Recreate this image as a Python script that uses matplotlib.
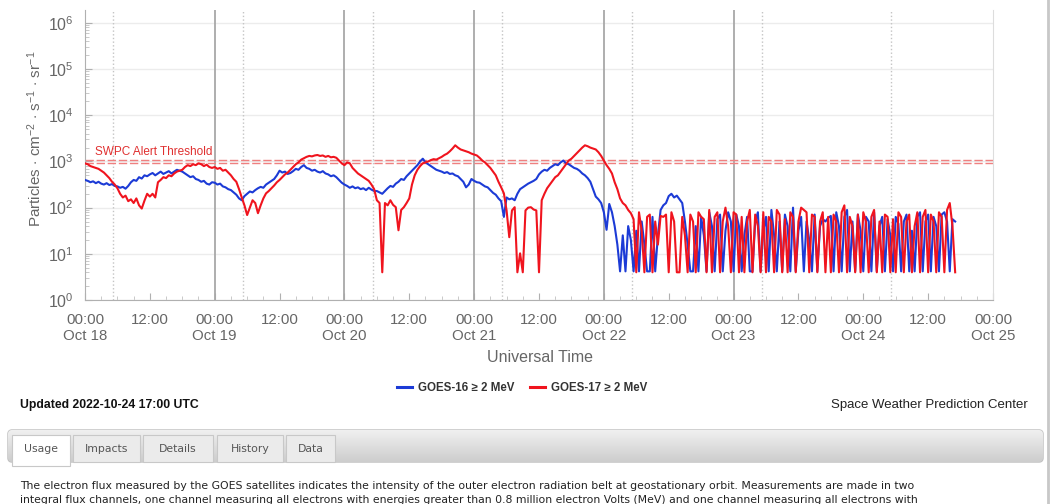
import numpy as np
import pandas as pd
import matplotlib
matplotlib.use('Agg')
import matplotlib.pyplot as plt
from matplotlib.lines import Line2D
from matplotlib.patches import FancyBboxPatch, Rectangle

plt.rcParams['font.family'] = ['Liberation Sans', 'DejaVu Sans']
plt.rcParams['mathtext.fontset'] = 'custom'
plt.rcParams['mathtext.rm'] = 'Liberation Sans'
plt.rcParams['mathtext.it'] = 'Liberation Sans:italic'
plt.rcParams['mathtext.bf'] = 'Liberation Sans:bold'

# data: log10 of flux, one value every 30 min from 2022-10-18 00:00 UT
start = pd.Timestamp('2022-10-18 00:00')
step = '30min'

g16_log10 = [
    2.60, 2.58, 2.55, 2.57, 2.53, 2.56, 2.52, 2.50, 2.53, 2.49, 2.51, 2.47,
    2.46, 2.43, 2.45, 2.41, 2.47, 2.55, 2.60, 2.58, 2.66, 2.63, 2.70, 2.68,
    2.72, 2.75, 2.70, 2.74, 2.78, 2.73, 2.76, 2.79, 2.74, 2.78, 2.82, 2.80,
    2.78, 2.74, 2.70, 2.66, 2.68, 2.62, 2.60, 2.56, 2.58, 2.52, 2.50, 2.55,
    2.54, 2.50, 2.52, 2.46, 2.44, 2.40, 2.38, 2.33, 2.28, 2.20, 2.16, 2.25,
    2.30, 2.35, 2.33, 2.38, 2.42, 2.45, 2.43, 2.50, 2.54, 2.58, 2.62, 2.70,
    2.80, 2.76, 2.78, 2.73, 2.75, 2.79, 2.84, 2.82, 2.88, 2.92, 2.86, 2.84,
    2.80, 2.82, 2.78, 2.76, 2.79, 2.74, 2.72, 2.68, 2.70, 2.66, 2.60, 2.54,
    2.50, 2.47, 2.43, 2.46, 2.42, 2.44, 2.40, 2.42, 2.38, 2.43, 2.39, 2.36,
    2.36, 2.33, 2.30, 2.36, 2.42, 2.47, 2.45, 2.52, 2.56, 2.62, 2.60, 2.68,
    2.74, 2.80, 2.86, 2.92, 3.00, 3.06, 2.98, 2.94, 2.90, 2.86, 2.82, 2.80,
    2.78, 2.75, 2.77, 2.73, 2.74, 2.70, 2.68, 2.62, 2.56, 2.44, 2.50, 2.62,
    2.58, 2.55, 2.54, 2.50, 2.46, 2.44, 2.38, 2.32, 2.28, 2.20, 2.14, 1.80,
    2.22, 2.18, 2.20, 2.16, 2.30, 2.40, 2.44, 2.48, 2.52, 2.55, 2.58, 2.62,
    2.72, 2.78, 2.82, 2.80, 2.86, 2.90, 2.94, 2.92, 2.98, 3.02, 2.96, 2.94,
    2.90, 2.86, 2.84, 2.80, 2.74, 2.70, 2.64, 2.56, 2.40, 2.24, 2.18, 2.10,
    1.90, 1.52, 2.08, 1.90, 1.60, 1.20, 0.62, 1.40, 0.62, 1.60, 1.30, 0.62,
    1.50, 0.62, 1.70, 1.20, 0.62, 0.62, 1.80, 0.62, 1.40, 1.95, 2.05, 2.10,
    2.25, 2.30, 2.22, 2.26, 2.18, 2.10, 1.70, 1.20, 0.62, 0.62, 1.60, 0.62,
    1.80, 1.40, 0.62, 1.90, 1.60, 0.62, 1.75, 1.85, 0.62, 1.50, 1.90, 1.70,
    0.62, 1.85, 1.60, 0.62, 1.40, 1.80, 0.62, 0.62, 1.70, 1.90, 0.62, 1.50,
    1.80, 0.62, 1.95, 1.40, 0.62, 1.70, 0.62, 1.85, 1.60, 0.62, 2.00, 0.62,
    1.50, 1.80, 0.62, 1.70, 1.30, 0.62, 1.85, 0.62, 1.60, 1.75, 1.70, 1.78,
    1.82, 0.62, 1.90, 1.60, 0.62, 1.80, 1.95, 0.62, 1.70, 0.62, 1.85, 1.50,
    0.62, 1.80, 1.70, 0.62, 1.90, 0.62, 1.60, 1.80, 0.62, 1.75, 1.40, 0.62,
    1.80, 1.65, 0.62, 1.70, 1.85, 0.62, 1.50, 0.62, 1.80, 1.90, 0.62, 1.70,
    1.85, 0.62, 1.80, 1.60, 0.62, 1.85, 1.90, 1.70, 0.62, 1.75, 1.70,
]

g17_log10 = [
    2.96, 2.94, 2.90, 2.88, 2.86, 2.84, 2.80, 2.76, 2.70, 2.64, 2.56, 2.50,
    2.42, 2.30, 2.22, 2.26, 2.14, 2.18, 2.10, 2.20, 2.05, 1.98, 2.15, 2.30,
    2.24, 2.30, 2.22, 2.55, 2.60, 2.66, 2.64, 2.70, 2.68, 2.74, 2.78, 2.80,
    2.82, 2.88, 2.92, 2.90, 2.94, 2.92, 2.96, 2.94, 2.90, 2.93, 2.88, 2.86,
    2.88, 2.84, 2.86, 2.80, 2.82, 2.76, 2.70, 2.62, 2.56, 2.40, 2.22, 2.05,
    1.84, 2.00, 2.16, 2.10, 1.88, 2.05, 2.20, 2.31, 2.36, 2.42, 2.48, 2.55,
    2.60, 2.66, 2.72, 2.76, 2.82, 2.88, 2.94, 2.98, 3.04, 3.07, 3.10, 3.12,
    3.11, 3.13, 3.14, 3.12, 3.13, 3.10, 3.12, 3.09, 3.10, 3.08, 3.02, 2.96,
    2.92, 2.98, 2.96, 2.86, 2.80, 2.74, 2.70, 2.66, 2.62, 2.58, 2.50, 2.40,
    2.16, 2.10, 0.60, 2.10, 2.05, 2.16, 2.06, 2.01, 1.51, 1.95, 2.01, 2.10,
    2.20, 2.50, 2.70, 2.82, 2.90, 2.96, 2.98, 3.00, 3.03, 3.05, 3.04, 3.07,
    3.10, 3.14, 3.17, 3.22, 3.28, 3.35, 3.30, 3.26, 3.24, 3.22, 3.20, 3.17,
    3.15, 3.13, 3.08, 3.02, 2.98, 2.92, 2.86, 2.78, 2.70, 2.56, 2.44, 2.31,
    1.94, 1.36, 1.94, 2.01, 0.60, 1.01, 0.60, 1.94, 2.00, 2.01, 1.96, 1.94,
    0.60, 2.16, 2.30, 2.42, 2.50, 2.58, 2.66, 2.70, 2.78, 2.86, 2.94, 3.02,
    3.06, 3.12, 3.18, 3.24, 3.30, 3.35, 3.33, 3.30, 3.28, 3.26, 3.20, 3.12,
    3.02, 2.92, 2.84, 2.74, 2.55, 2.40, 2.20, 2.10, 2.05, 1.95, 1.88, 1.75,
    0.60, 1.90, 1.50, 0.60, 1.80, 1.85, 0.60, 1.70, 1.20, 1.82, 1.80, 1.85,
    0.60, 1.90, 1.70, 0.60, 0.60, 1.80, 1.40, 0.60, 1.85, 1.70, 0.60, 1.90,
    1.80, 1.75, 0.60, 1.95, 0.60, 1.80, 1.90, 0.60, 1.70, 2.00, 1.60, 0.60,
    1.90, 1.85, 0.60, 1.80, 0.60, 1.70, 1.95, 0.60, 1.85, 1.60, 0.60, 1.90,
    0.60, 1.80, 1.70, 0.60, 1.95, 1.85, 0.60, 1.75, 0.60, 1.90, 1.80, 0.60,
    1.70, 2.00, 1.95, 1.90, 0.60, 1.85, 1.80, 0.60, 1.70, 1.90, 0.60, 1.80,
    0.60, 1.85, 1.70, 0.60, 1.90, 2.05, 0.60, 1.80, 1.60, 0.60, 1.85, 0.60,
    1.90, 1.70, 0.60, 1.80, 1.95, 0.60, 1.70, 0.60, 1.85, 1.80, 0.60, 1.75,
    0.60, 1.90, 1.80, 0.60, 1.70, 1.85, 0.60, 1.60, 1.90, 0.60, 1.80, 1.95,
    0.60, 1.85, 1.70, 0.60, 1.90, 1.80, 0.60, 1.95, 2.10, 1.60, 0.60,
]

threshold = 1000
day_labels = ['Oct 18', 'Oct 19', 'Oct 20', 'Oct 21', 'Oct 22', 'Oct 23', 'Oct 24', 'Oct 25']
series_names = ['GOES-16 \u2265 2 MeV', 'GOES-17 \u2265 2 MeV']
tab_names = ['Usage', 'Impacts', 'Details', 'History', 'Data']

blue = '#1c3bd6'
red = '#f0141e'
grey_txt = '#666666'

t16 = pd.date_range(start, periods=len(g16_log10), freq=step)
t17 = pd.date_range(start, periods=len(g17_log10), freq=step)
end = start + pd.Timedelta(days=7)

W, H = 1053, 504
fig = plt.figure(figsize=(W / 100, H / 100), dpi=100)
fig.patch.set_facecolor('white')

# page elements drawn in pixel coordinates
page = fig.add_axes([0, 0, 1, 1], zorder=0)
page.set_xlim(0, W)
page.set_ylim(H, 0)
page.axis('off')

ax = fig.add_axes([85 / W, 1 - 300 / H, (993 - 85) / W, 290 / H], zorder=1)
ax.set_facecolor('none')

ax.set_yscale('log')
ax.set_ylim(1, 10 ** 6.28)
ax.set_xlim(start, end)

ax.yaxis.grid(True, which='major', color='#ececec', lw=1)
ax.set_axisbelow(True)

# day lines
for d in range(1, 6):
    ax.axvline(start + pd.Timedelta(days=d), color='#a8a8a8', lw=1.3, zorder=1)
for d in range(7):
    ax.axvline(start + pd.Timedelta(days=d, hours=5.2), color='#c4c4c4', lw=1, ls=':', zorder=1)

# alert threshold (double dashed line)
for f in (1.08, 0.93):
    ax.axhline(threshold * f, color='#ef8080', lw=1, dashes=(6, 2), zorder=2)
ax.text(start + pd.Timedelta(hours=1.8), threshold * 1.18, 'SWPC Alert Threshold',
        color='#e03030', fontsize=8.5, va='bottom', ha='left', zorder=3)

ax.plot(t16, 10 ** np.array(g16_log10), color=blue, lw=1.5, zorder=4)
ax.plot(t17, 10 ** np.array(g17_log10), color=red, lw=1.5, zorder=5)

# axes styling
ax.spines['top'].set_visible(False)
ax.spines['right'].set_color('#dddddd')
ax.spines['left'].set_color('#b0b0b0')
ax.spines['bottom'].set_color('#b0b0b0')

decades = np.arange(0, 7)
ax.set_yticks(10.0 ** decades, [r'$10^{%d}$' % k for k in decades])
ax.yaxis.set_minor_locator(matplotlib.ticker.LogLocator(base=10, subs=np.arange(2, 10), numticks=20))
ax.yaxis.set_minor_formatter(matplotlib.ticker.NullFormatter())
ax.tick_params(axis='y', which='major', direction='in', length=5, color='#b0b0b0',
               labelsize=11.5, labelcolor=grey_txt, pad=8)
ax.tick_params(axis='y', which='minor', direction='in', length=3, color='#c0c0c0')

xt = [start + pd.Timedelta(hours=12 * k) for k in range(15)]
xl = ['00:00\n' + day_labels[k // 2] if k % 2 == 0 else '12:00' for k in range(15)]
ax.set_xticks(xt, xl)
ax.set_xticks([start + pd.Timedelta(hours=3 * k) for k in range(57)], minor=True)
ax.tick_params(axis='x', which='major', direction='in', length=5, color='#b0b0b0',
               labelsize=10.8, labelcolor=grey_txt, pad=9)
ax.tick_params(axis='x', which='minor', direction='in', length=3, color='#c0c0c0')
for lab in ax.get_xticklabels():
    lab.set_linespacing(1.2)

fig.text(35 / W, 1 - 139 / H, r'Particles $\cdot$ cm$^{-2}$ $\cdot$ s$^{-1}$ $\cdot$ sr$^{-1}$',
         rotation=90, ha='center', va='center', fontsize=11, color=grey_txt)
fig.text(540 / W, 1 - 358 / H, 'Universal Time', ha='center', va='center',
         fontsize=11.5, color=grey_txt)

# legend
handles = [Line2D([], [], color=blue, lw=2.2), Line2D([], [], color=red, lw=2.2)]
fig.legend(handles, series_names, loc='center', bbox_to_anchor=(522 / W, 1 - 388 / H),
           ncol=2, frameon=False, handlelength=1.3, handletextpad=0.5, columnspacing=1.4,
           prop={'weight': 'bold', 'size': 8.3, 'family': ['Liberation Sans', 'DejaVu Sans']},
           labelcolor='#333333')

page.text(20, 405, 'Updated 2022-10-24 17:00 UTC', fontsize=8.8, fontweight='bold',
          color='#111111', va='center', ha='left')
page.text(1028, 405, 'Space Weather Prediction Center', fontsize=9.5,
          color='#222222', va='center', ha='right')

# tab bar
bar = FancyBboxPatch((8, 430), 1035, 32, boxstyle='round,pad=0,rounding_size=4',
                     facecolor='#d4d4d4', edgecolor='#bdbdbd', lw=1)
page.add_patch(bar)
grad = np.linspace(0, 1, 50).reshape(-1, 1)
im = page.imshow(grad, cmap=matplotlib.colors.LinearSegmentedColormap.from_list('g', ['#f0f0f0', '#cdcdcd']),
                 extent=(8, 1043, 462, 430), aspect='auto', zorder=1)
im.set_clip_path(bar)
page.set_xlim(0, W)
page.set_ylim(H, 0)

tab_x = [(12, 70), (73, 140), (143, 213), (217, 283), (286, 335)]
for i, (name, (x0, x1)) in enumerate(zip(tab_names, tab_x)):
    active = i == 0
    rect = Rectangle((x0, 435), x1 - x0, (31 if active else 27),
                     facecolor='white' if active else '#ebebeb',
                     edgecolor='#c8c8c8', lw=0.8, zorder=2)
    page.add_patch(rect)
    page.text((x0 + x1) / 2, 449, name, ha='center', va='center', fontsize=7.8,
              family='DejaVu Sans', color='#555555', zorder=3)

page.text(20, 486, 'The electron flux measured by the GOES satellites indicates the intensity of the outer '
          'electron radiation belt at geostationary orbit. Measurements are made in two',
          fontsize=7.8, family='DejaVu Sans', color='#222222', va='center', ha='left')
page.text(20, 495, 'integral flux channels, one channel measuring all electrons with energies greater than '
          '0.8 million electron Volts (MeV) and one channel measuring all electrons with',
          fontsize=7.8, family='DejaVu Sans', color='#222222', va='top', ha='left')

page.plot([1048, 1048], [0, H], color='#c8c8c8', lw=2)

fig.savefig('out.png', dpi=100, facecolor='white')
